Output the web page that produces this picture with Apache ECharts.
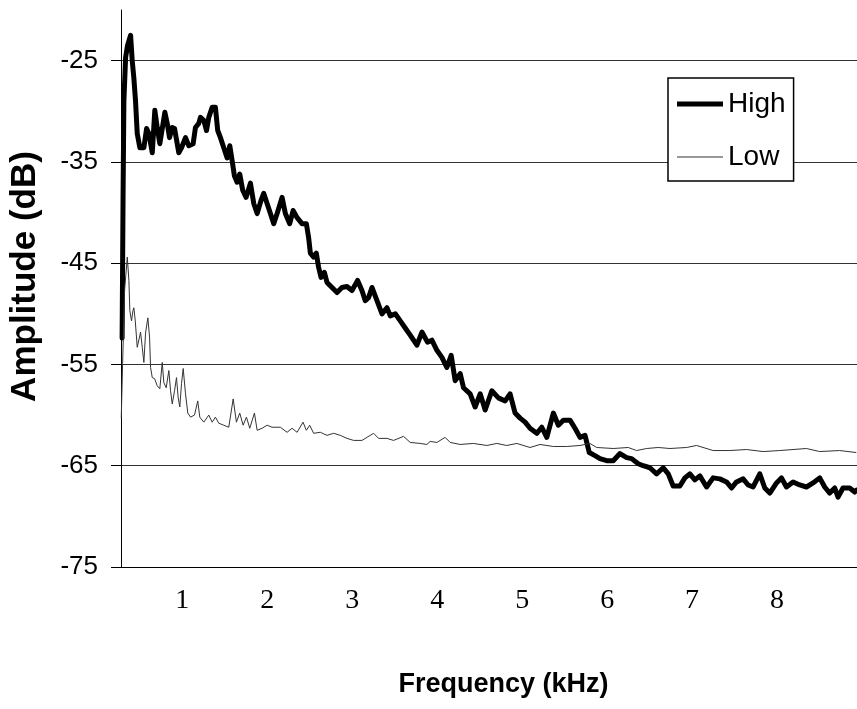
<!DOCTYPE html>
<html>
<head>
<meta charset="utf-8">
<script src="https://cdn.jsdelivr.net/npm/echarts@6/dist/echarts.min.js"></script>
<style>html,body{margin:0;padding:0;background:#fff}#c{width:857px;height:709px}</style>
</head>
<body>
<div id="c"></div>
<script>
const xTicks = [1, 2, 3, 4, 5, 6, 7, 8];
const yTicks = [-75, -65, -55, -45, -35, -25];

const highFreq = [0.293,0.304,0.314,0.334,0.357,0.393,0.412,0.431,0.451,0.471,0.502,0.549,0.581,0.608,0.648,0.678,0.706,0.737,0.796,0.824,0.851,0.883,0.910,0.960,0.992,1.039,1.078,1.129,1.156,1.195,1.215,1.254,1.286,1.313,1.353,1.391,1.418,1.450,1.489,1.529,1.560,1.588,1.615,1.646,1.677,1.712,1.752,1.803,1.842,1.882,1.928,1.959,1.999,2.038,2.077,2.117,2.175,2.214,2.265,2.305,2.352,2.410,2.461,2.488,2.508,2.547,2.578,2.605,2.634,2.673,2.704,2.763,2.822,2.880,2.939,2.998,3.064,3.115,3.154,3.193,3.233,3.292,3.351,3.409,3.448,3.507,3.566,3.624,3.683,3.762,3.821,3.886,3.938,3.997,4.056,4.114,4.165,4.212,4.271,4.310,4.388,4.447,4.506,4.565,4.643,4.721,4.800,4.858,4.917,4.976,5.035,5.093,5.172,5.231,5.290,5.367,5.426,5.485,5.563,5.622,5.681,5.740,5.790,5.857,5.916,5.995,6.072,6.151,6.230,6.288,6.366,6.425,6.503,6.582,6.660,6.719,6.777,6.856,6.915,6.973,7.032,7.091,7.170,7.247,7.326,7.405,7.464,7.522,7.600,7.659,7.718,7.796,7.855,7.914,7.993,8.051,8.110,8.188,8.266,8.345,8.423,8.501,8.560,8.619,8.678,8.717,8.775,8.854,8.913,8.936];
const highAmp = [-52.4,-38.8,-29.0,-24.7,-23.5,-22.5,-25.0,-26.7,-29.0,-32.2,-33.6,-33.6,-31.7,-32.2,-34.1,-29.9,-31.6,-33.2,-30.1,-31.2,-32.6,-31.6,-31.7,-34.1,-33.6,-32.6,-33.4,-33.2,-31.6,-31.2,-30.6,-30.9,-31.9,-30.6,-29.6,-29.6,-31.9,-32.6,-33.6,-34.6,-33.4,-34.9,-36.4,-37.0,-36.2,-37.8,-38.5,-37.1,-39.1,-40.1,-38.8,-38.1,-39.1,-40.1,-41.1,-40.1,-38.5,-40.1,-41.1,-39.8,-40.5,-41.1,-41.1,-42.5,-44.0,-44.4,-44.0,-45.4,-46.4,-45.9,-46.9,-47.4,-47.9,-47.4,-47.3,-47.7,-46.7,-47.7,-48.7,-48.4,-47.4,-48.7,-50.0,-49.4,-50.2,-50.0,-50.7,-51.4,-52.1,-53.1,-51.8,-52.8,-52.6,-53.6,-54.3,-55.3,-54.1,-56.6,-55.9,-57.3,-57.9,-59.2,-57.9,-59.5,-57.6,-58.3,-58.6,-57.9,-59.8,-60.3,-60.7,-61.3,-61.8,-61.2,-62.2,-59.8,-61.0,-60.5,-60.5,-61.3,-62.2,-62.0,-63.7,-64.0,-64.3,-64.5,-64.5,-63.8,-64.2,-64.3,-64.8,-65.0,-65.2,-65.8,-65.2,-65.8,-67.0,-67.0,-66.2,-65.8,-66.4,-66.0,-67.1,-66.2,-66.3,-66.6,-67.2,-66.6,-66.3,-66.9,-67.1,-65.8,-67.2,-67.7,-66.7,-66.2,-67.1,-66.6,-66.9,-67.1,-66.7,-66.2,-67.1,-67.7,-67.2,-68.1,-67.2,-67.2,-67.6,-67.4];

const lowFreq = [0.283,0.299,0.322,0.354,0.373,0.384,0.404,0.420,0.431,0.448,0.471,0.495,0.510,0.530,0.549,0.569,0.596,0.616,0.628,0.648,0.675,0.706,0.737,0.765,0.784,0.812,0.843,0.863,0.883,0.910,0.933,0.953,0.972,0.992,1.012,1.039,1.066,1.098,1.145,1.183,1.207,1.254,1.313,1.353,1.391,1.430,1.489,1.548,1.600,1.638,1.677,1.717,1.756,1.795,1.850,1.882,1.940,1.999,2.058,2.155,2.234,2.293,2.352,2.422,2.461,2.500,2.547,2.625,2.704,2.782,2.860,2.939,3.017,3.115,3.174,3.252,3.311,3.409,3.487,3.604,3.683,3.801,3.879,3.918,3.997,4.094,4.153,4.271,4.427,4.584,4.702,4.819,4.937,5.093,5.211,5.367,5.524,5.681,5.798,5.877,6.072,6.248,6.347,6.465,6.601,6.739,6.935,7.052,7.247,7.444,7.640,7.835,8.031,8.345,8.501,8.736,8.932];
const lowAmp = [-60.3,-54.9,-47.7,-44.4,-46.7,-49.7,-50.7,-49.7,-49.4,-50.7,-53.3,-52.4,-51.8,-53.3,-54.8,-51.9,-50.4,-52.3,-55.3,-56.3,-56.4,-57.1,-57.4,-54.8,-56.8,-57.3,-55.6,-57.6,-58.9,-57.6,-56.3,-58.3,-59.2,-56.9,-55.4,-57.9,-59.8,-60.2,-60.0,-58.6,-60.2,-60.7,-60.0,-60.7,-60.2,-60.8,-61.0,-61.2,-58.4,-60.7,-59.8,-61.0,-60.2,-61.3,-59.8,-61.5,-61.3,-61.0,-61.2,-61.2,-61.7,-61.3,-61.7,-60.7,-61.5,-61.0,-61.8,-61.7,-62.0,-61.8,-62.0,-62.3,-62.5,-62.5,-62.2,-61.8,-62.3,-62.3,-62.5,-62.1,-62.7,-62.8,-62.9,-62.6,-62.7,-62.2,-62.7,-62.9,-62.8,-63.0,-62.8,-63.0,-62.8,-63.2,-62.9,-63.1,-63.1,-63.0,-62.8,-63.2,-63.3,-63.2,-63.5,-63.3,-63.2,-63.3,-63.2,-63.0,-63.5,-63.5,-63.4,-63.6,-63.5,-63.3,-63.6,-63.5,-63.7];

const highData = highFreq.map((f, i) => [f, highAmp[i]]);
const lowData = lowFreq.map((f, i) => [f, lowAmp[i]]);

const chart = echarts.init(document.getElementById('c'), null, {renderer: 'canvas'});
chart.setOption({
  animation: false,
  backgroundColor: '#fff',
  grid: {left: 120, right: 0, top: 10, bottom: 142, containLabel: false},
  xAxis: {
    type: 'value', min: 0.28, max: 8.94,
    name: 'Frequency (kHz)', nameLocation: 'middle', nameGap: 104,
    nameTextStyle: {fontFamily: 'Liberation Sans', fontWeight: 'bold', fontSize: 27, color: '#000', padding: [0, 0, 0, 29]},
    axisLine: {lineStyle: {color: '#000', width: 1}},
    axisTick: {show: false},
    splitLine: {show: false},
    axisLabel: {customValues: xTicks, fontFamily: 'Liberation Serif', fontSize: 28, color: '#000', margin: 20}
  },
  yAxis: {
    type: 'value', min: -75, max: -20,
    name: 'Amplitude (dB)', nameLocation: 'middle', nameGap: 78,
    nameTextStyle: {fontFamily: 'Liberation Sans', fontWeight: 'bold', fontSize: 35, color: '#000', padding: [0, 0, 0, 24]},
    axisLine: {show: true, lineStyle: {color: '#000', width: 1}},
    axisTick: {show: true, customValues: yTicks, length: 10, lineStyle: {color: '#000'}},
    splitLine: {show: true, lineStyle: {color: '#333', width: 1}},
    axisLabel: {customValues: yTicks, fontFamily: 'Liberation Sans', fontSize: 26, color: '#000', margin: 23}
  },
  legend: {
    left: 668, top: 78, orient: 'vertical',
    backgroundColor: '#fff', borderColor: '#000', borderWidth: 1.5,
    padding: [12, 8, 10, 9], itemGap: 25, itemWidth: 46, itemHeight: 28,
    textStyle: {fontFamily: 'Liberation Sans', fontSize: 28, color: '#000'},
    data: [
      {name: 'High', icon: 'path://M0,0h46v5h-46z', itemStyle: {color: '#000', borderWidth: 0}},
      {name: 'Low', icon: 'path://M0,0h42v1h-42z', itemStyle: {color: '#333', borderWidth: 0}}
    ]
  },
  series: [
    {name: 'High', type: 'line', data: highData, symbol: 'none', lineStyle: {color: '#000', width: 5, join: 'round', cap: 'round'}, itemStyle: {color: '#000'}},
    {name: 'Low', type: 'line', data: lowData, symbol: 'none', lineStyle: {color: '#333', width: 1}, itemStyle: {color: '#333'}}
  ]
});
</script>
</body>
</html>
